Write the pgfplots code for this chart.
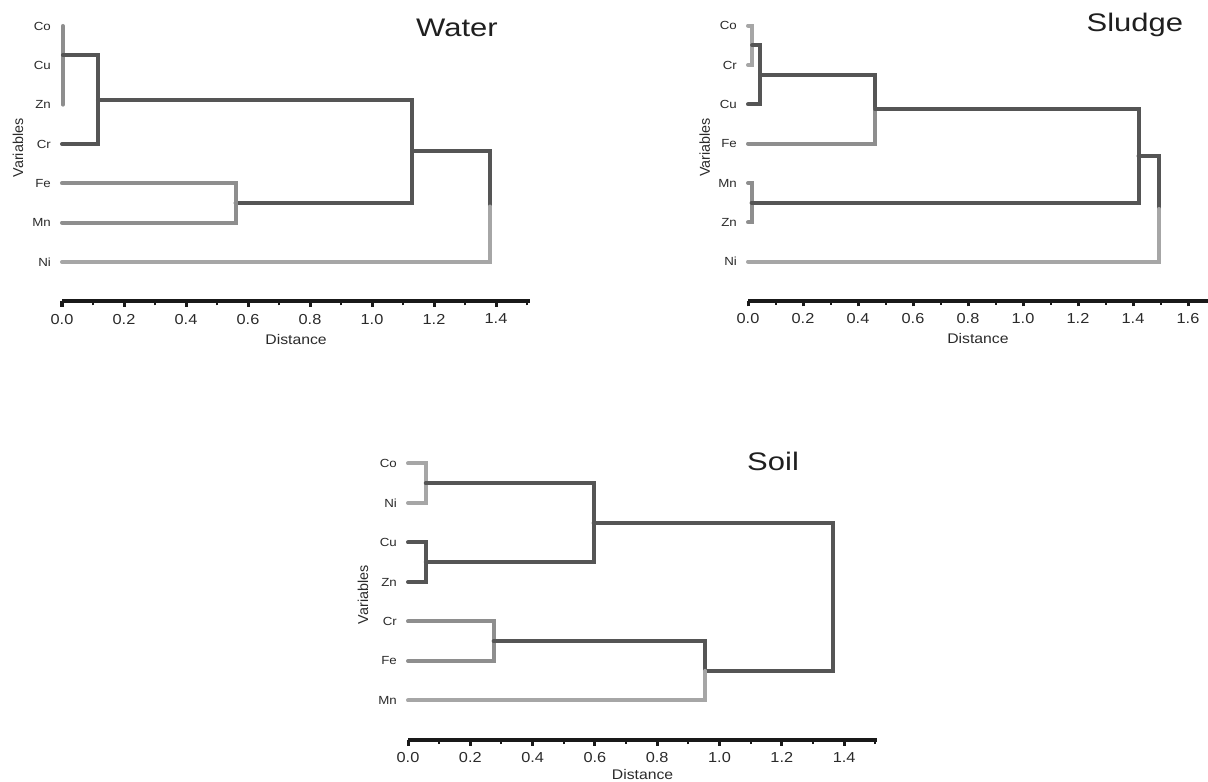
\documentclass[border=0pt]{standalone}
\usepackage{fontspec}
\setmainfont{Liberation Sans}[FakeStretch=1.13]
\newfontfamily\plainsans{Liberation Sans}
\newfontfamily\titlefont{Liberation Sans}[FakeStretch=1.22]
\usepackage{pgfplots}
\pgfplotsset{compat=1.18}

\definecolor{dk}{HTML}{555555}
\definecolor{md}{HTML}{8E8E8E}
\definecolor{lt}{HTML}{A6A6A6}
\definecolor{txt}{HTML}{2A2A2A}

\tikzset{ttl/.style={font=\titlefont\fontsize{25.5}{28}\selectfont, text=black!88, anchor=base, inner sep=0pt}}

\pgfplotsset{
  dendro/.style={
    anchor=south west,
    xmin=0, ymin=0, ymax=7.5,
    clip=false,
    axis x line*=bottom, axis y line*=left,
    y axis line style={draw=none},
    x axis line style={line width=4bp, black!90},
    xtick align=outside,
    major tick length=5.5bp, minor tick length=4bp,
    major x tick style={line width=3bp, black!90},
    minor x tick style={line width=2bp, black!90},
    ytick={1,2,3,4,5,6,7},
    ytick style={draw=none},
    yticklabel style={font=\fontsize{11.8}{13}\selectfont, text=txt, anchor=east, inner sep=0pt, xshift=-11bp},
    xticklabel style={font=\fontsize{14.5}{16}\selectfont, text=txt, inner sep=0pt, anchor=north, yshift=-7bp,
      /pgf/number format/fixed, /pgf/number format/fixed zerofill, /pgf/number format/precision=1},
    /pgf/number format/assume math mode=true,
    xlabel={Distance},
    xlabel style={font=\fontsize{14}{16}\selectfont, text=txt, at={(axis description cs:0.5,0)}, anchor=center, yshift=-38bp},
    ylabel={Variables},
    every axis plot/.append style={line width=4bp, line cap=round, line join=miter, mark=none},
  },
}

\begin{document}
\begin{tikzpicture}
\useasboundingbox (0,0) rectangle (1208bp,782bp);

% Water
\begin{axis}[dendro,
  at={(62bp,480.7bp)}, x=310bp, y=39.33bp, xmax=1.51,
  xtick={0,0.2,0.4,0.6,0.8,1.0,1.2,1.4},
  minor xtick={0.1,0.3,0.5,0.7,0.9,1.1,1.3,1.5},
  yticklabels={Ni,Mn,Fe,Cr,Zn,Cu,Co},
  ylabel style={font=\plainsans\fontsize{14.4}{16}\selectfont, text=txt, at={(axis description cs:-0.094,0.52)}, anchor=center},
]
\addplot[color=md] coordinates {(0.003,7) (0.003,5)};
\addplot[color=dk] coordinates {(0.003,6.26) (0.116,6.26) (0.116,4) (0,4)};
\addplot[color=dk] coordinates {(0.116,5.13) (1.13,5.13) (1.13,2.5) (0.56,2.5)};
\addplot[color=md] coordinates {(0,3) (0.56,3) (0.56,2) (0,2)};
\addplot[color=dk] coordinates {(1.13,3.815) (1.38,3.815) (1.38,2.41)};
\addplot[color=lt] coordinates {(1.38,2.41) (1.38,1) (0,1)};
\node[ttl] at (axis cs:1.274,6.745) {Water};
\end{axis}

% Sludge
\begin{axis}[dendro,
  at={(748bp,481bp)}, x=275bp, y=39.33bp, xmax=1.672,
  xtick={0,0.2,0.4,0.6,0.8,1.0,1.2,1.4,1.6},
  minor xtick={0.1,0.3,0.5,0.7,0.9,1.1,1.3,1.5},
  yticklabels={Ni,Zn,Mn,Fe,Cu,Cr,Co},
  ylabel style={font=\plainsans\fontsize{14.4}{16}\selectfont, text=txt, at={(axis description cs:-0.094,0.52)}, anchor=center},
]
\addplot[color=lt] coordinates {(0,7) (0.015,7) (0.015,6) (0,6)};
\addplot[color=dk] coordinates {(0.015,6.5) (0.044,6.5) (0.044,5) (0,5)};
\addplot[color=dk] coordinates {(0.044,5.75) (0.462,5.75) (0.462,4.875)};
\addplot[color=md] coordinates {(0.462,4.875) (0.462,4) (0,4)};
\addplot[color=md] coordinates {(0,3) (0.013,3) (0.013,2) (0,2)};
\addplot[color=dk] coordinates {(0.013,2.5) (1.42,2.5) (1.42,4.875) (0.462,4.875)};
\addplot[color=dk] coordinates {(1.42,3.6875) (1.495,3.6875) (1.495,2.34)};
\addplot[color=lt] coordinates {(1.495,2.34) (1.495,1) (0,1)};
\node[ttl] at (axis cs:1.407,6.85) {Sludge};
\end{axis}

% Soil
\begin{axis}[dendro,
  at={(408bp,42bp)}, x=311.5bp, y=39.5bp, xmax=1.506,
  xtick={0,0.2,0.4,0.6,0.8,1.0,1.2,1.4},
  minor xtick={0.1,0.3,0.5,0.7,0.9,1.1,1.3,1.5},
  yticklabels={Mn,Fe,Cr,Zn,Cu,Ni,Co},
  xlabel style={yshift=3bp},
  ylabel style={font=\plainsans\fontsize{14.4}{16}\selectfont, text=txt, at={(axis description cs:-0.096,0.49)}, anchor=center},
]
\addplot[color=lt] coordinates {(0,7) (0.057,7) (0.057,6) (0,6)};
\addplot[color=dk] coordinates {(0,5) (0.057,5) (0.057,4) (0,4)};
\addplot[color=dk] coordinates {(0.057,6.5) (0.596,6.5) (0.596,4.5) (0.057,4.5)};
\addplot[color=dk] coordinates {(0.596,5.5) (1.364,5.5) (1.364,1.75) (0.954,1.75)};
\addplot[color=md] coordinates {(0,3) (0.275,3) (0.275,2) (0,2)};
\addplot[color=dk] coordinates {(0.275,2.5) (0.954,2.5) (0.954,1.75)};
\addplot[color=lt] coordinates {(0.954,1.75) (0.954,1) (0,1)};
\node[ttl] at (axis cs:1.172,6.81) {Soil};
\end{axis}
\end{tikzpicture}
\end{document}
